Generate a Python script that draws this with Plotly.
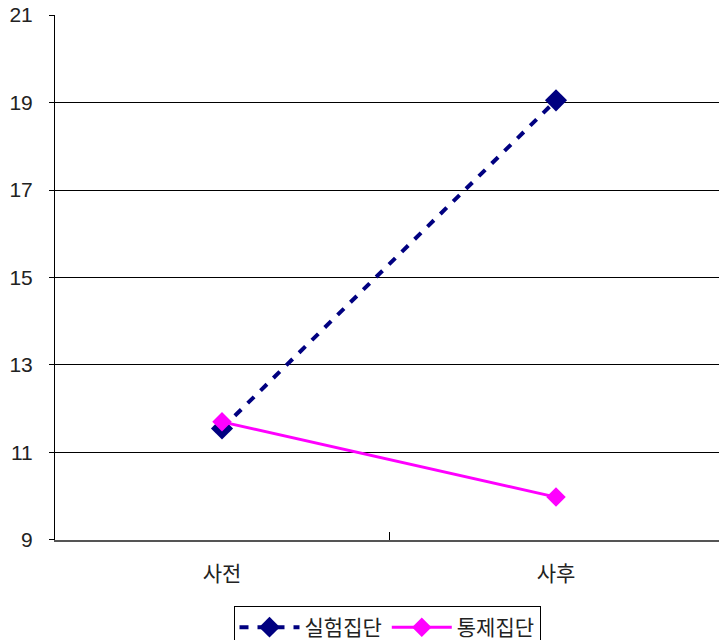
import plotly.graph_objects as go

# Pre/post test means for the two groups
categories = ["사전", "사후"]
experimental = [11.55, 19.05]
control = [11.7, 9.98]
y_ticks = [9, 11, 13, 15, 17, 19, 21]

font_family = "Liberation Sans, Noto Sans CJK KR, sans-serif"
kr_family = "Noto Sans CJK KR, sans-serif"

fig = go.Figure()
fig.add_trace(go.Scatter(
    x=categories, y=experimental, name="실험집단",
    mode="lines+markers",
    line=dict(color="#000080", width=4, dash="9px,9px"),
    marker=dict(symbol="diamond", size=17, color="#000080"),
))
fig.add_trace(go.Scatter(
    x=categories, y=control, name="통제집단",
    mode="lines+markers",
    line=dict(color="#ff00ff", width=3),
    marker=dict(symbol="diamond", size=15, color="#ff00ff"),
))

fig.update_layout(
    width=719, height=640,
    margin=dict(l=55, r=0, t=15, b=100),
    paper_bgcolor="white", plot_bgcolor="white",
    font=dict(family=font_family, size=21, color="#222222"),
    showlegend=True,
    legend=dict(
        orientation="h", x=0.5, xanchor="center",
        yref="container", y=(640 - 606) / 640, yanchor="top",
        bordercolor="#000000", borderwidth=1, bgcolor="white",
        font=dict(family=kr_family, size=21, color="#222222"), itemwidth=60,
        tracegroupgap=0,
    ),
    xaxis=dict(
        type="category", range=[-0.5, 1.488],
        tickson="boundaries", ticks="inside", ticklen=8, tickcolor="#000000",
        showgrid=False, showline=True, linecolor="#555555", linewidth=2,
        tickfont=dict(family=kr_family, size=21), zeroline=False,
        ticklabelstandoff=14,
    ),
    yaxis=dict(
        range=[8.999, 21.001], tickvals=y_ticks, ticks="outside", ticklen=5,
        tickcolor="#000000", showgrid=True, gridcolor="#000000", gridwidth=1,
        showline=True, linecolor="#000000", linewidth=1, zeroline=False,
        tickfont=dict(size=21), ticklabelstandoff=12,
    ),
)

fig.write_html("out.html")
